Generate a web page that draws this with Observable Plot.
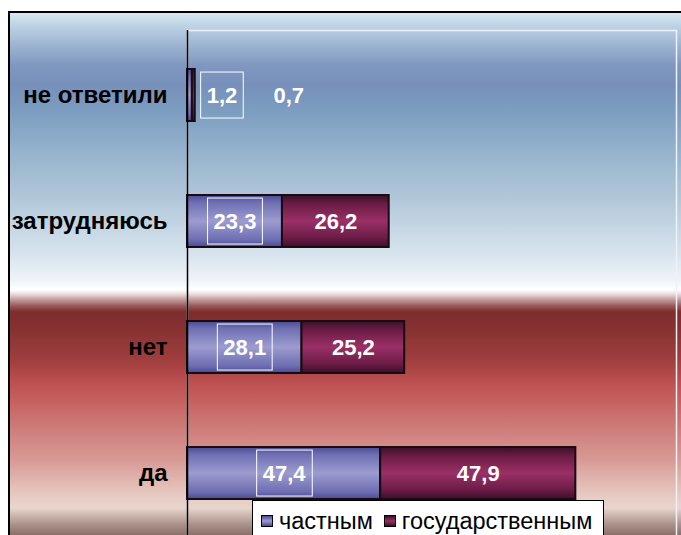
<!DOCTYPE html>
<html>
<head>
<meta charset="utf-8">
<script src="https://cdn.jsdelivr.net/npm/d3@7"></script>
<script src="https://cdn.jsdelivr.net/npm/@observablehq/plot@0.6"></script>
<style>
html, body { margin: 0; padding: 0; width: 681px; height: 535px; overflow: hidden; background: #fff; }
#wrap { position: relative; width: 681px; height: 535px; overflow: hidden; font-family: "Liberation Sans", Arial, sans-serif; }
#frame {
  position: absolute; left: 8px; top: 11px; width: 720px; height: 600px;
  border-left: 2px solid #000; border-top: 2px solid #000;
  background: linear-gradient(to bottom,
    #d8e8f2 0px, #c4d8e8 9px, #a4bcd6 27px, #8098c0 52px, #7690ba 72px, #7c9cc0 97px,
    #94b2cc 137px, #b2c8da 187px, #d4e2ec 237px, #eef3f8 267px, #ffffff 277px,
    #ecdcdc 281px, #c09898 287px, #985858 293px, #7e2c2c 299px, #873232 317px,
    #a03e3e 347px, #c05252 372px, #cb7472 407px, #d89a96 447px, #e6cac2 482px,
    #e8d6ce 495px, #cfb8b0 502px, #a89088 512px, #8a7068 522px, #8a7068 600px);
}
#chart { position: absolute; left: 0; top: 0; }
#legend {
  position: absolute; left: 252px; top: 500px; width: 352px; height: 60px;
  border: 1px solid #000; background: #fff; box-sizing: border-box;
  display: flex; align-items: flex-start; padding: 7px 0 0 8px;
  font-size: 23.5px; line-height: 26px; color: #000;
}
#legend .item { display: flex; align-items: center; margin-right: 11px; }
#legend .sw { width: 10px; height: 10px; border: 1.5px solid #000; margin-right: 6px; }
</style>
</head>
<body>
<div id="wrap">
  <div id="frame"></div>
  <div id="chart"></div>
  <div id="legend"></div>
</div>
<script>
const categories = ["не ответили", "затрудняюсь", "нет", "да"];
const series = ["частным", "государственным"];
const privateValues = [1.2, 23.3, 28.1, 47.4];
const stateValues = [0.7, 26.2, 25.2, 47.9];
const xDomain = [0, 120];

const data = categories.flatMap((c, i) => [
  {cat: c, series: series[0], value: privateValues[i]},
  {cat: c, series: series[1], value: stateValues[i]}
]);
const fmt = v => v.toFixed(1).replace(".", ",");
const smallCat = categories[0];

const gradIds = ["gPrivate", "gState"];
const gradStops = [
  [["0", "#4a4a92"], ["0.14", "#6e6eb2"], ["0.5", "#9c9cd0"], ["0.86", "#6e6eb2"], ["1", "#4a4a92"]],
  [["0", "#3a1028"], ["0.18", "#6c1c46"], ["0.5", "#9a3066"], ["0.82", "#6c1c46"], ["1", "#3a1028"]]
];

function defsMark() {
  const ns = "http://www.w3.org/2000/svg";
  const defs = document.createElementNS(ns, "defs");
  gradIds.forEach((id, k) => {
    const lg = document.createElementNS(ns, "linearGradient");
    lg.setAttribute("id", id);
    lg.setAttribute("x1", "0"); lg.setAttribute("y1", "0");
    lg.setAttribute("x2", "0"); lg.setAttribute("y2", "1");
    gradStops[k].forEach(([o, c]) => {
      const s = document.createElementNS(ns, "stop");
      s.setAttribute("offset", o); s.setAttribute("stop-color", c);
      lg.appendChild(s);
    });
    defs.appendChild(lg);
  });
  return defs;
}

const font = "Liberation Sans, Arial, sans-serif";
// label text shown only for the rows selected by `pick`; stacking still uses every row
const labelFor = pick => d => (pick(d) ? fmt(d.value) : null);

const valueText = (pick, dx) => Plot.text(data, Plot.stackX({
  x: "value", y: "cat", text: labelFor(pick), dx,
  fill: "#fff", fontSize: 22, fontWeight: "bold", fontFamily: font
}));

const chart = Plot.plot({
  width: 681,
  height: 537,
  marginLeft: 187,
  marginRight: 5,
  marginTop: 30,
  marginBottom: 0,
  style: {background: "transparent", fontFamily: font, overflow: "visible"},
  x: {domain: xDomain, axis: null},
  y: {domain: categories, axis: null, paddingInner: 0.59, paddingOuter: 0.3},
  color: {domain: series, range: gradIds.map(id => `url(#${id})`)},
  marks: [
    defsMark,
    Plot.frame({stroke: "#eef2f6", strokeWidth: 1.5}),
    Plot.barX(data, Plot.stackX({x: "value", y: "cat", fill: "series", stroke: "#1a0a12", strokeWidth: 2})),
    Plot.ruleX([0], {stroke: "#000", strokeWidth: 1.5}),
    Plot.text(categories, {y: d => d, text: d => d, frameAnchor: "left", textAnchor: "end", dx: -20,
      fontSize: 24, fontWeight: "bold", fill: "#000", fontFamily: font}),
    valueText(d => d.cat !== smallCat, 0),
    valueText(d => d.cat === smallCat && d.series === series[0], 32),
    valueText(d => d.cat === smallCat && d.series === series[1], 95)
  ]
});
document.getElementById("chart").appendChild(chart);

// white outline boxes around the private-series labels, sized from the rendered text
const ns = "http://www.w3.org/2000/svg";
const boxed = new Set(privateValues.map(fmt));
chart.querySelectorAll("text").forEach(t => {
  if (!boxed.has(t.textContent)) return;
  const b = t.getBBox();
  const r = document.createElementNS(ns, "rect");
  const cy = b.y + b.height / 2;
  r.setAttribute("x", b.x - 6);
  r.setAttribute("y", cy - 23);
  r.setAttribute("width", b.width + 12);
  r.setAttribute("height", 46);
  r.setAttribute("fill", "none");
  r.setAttribute("stroke", "#fff");
  r.setAttribute("stroke-width", 1);
  const tr = t.getAttribute("transform");
  if (tr) r.setAttribute("transform", tr);
  t.parentNode.insertBefore(r, t);
});

// legend
const swatchCss = [
  "linear-gradient(to bottom, #4a4a92, #9c9cd0 50%, #4a4a92)",
  "linear-gradient(to bottom, #3a1028, #9a3066 50%, #3a1028)"
];
const legend = document.getElementById("legend");
series.forEach((s, k) => {
  const item = document.createElement("div");
  item.className = "item";
  const sw = document.createElement("span");
  sw.className = "sw";
  sw.style.background = swatchCss[k];
  const tx = document.createElement("span");
  tx.textContent = s;
  item.appendChild(sw); item.appendChild(tx);
  legend.appendChild(item);
});
</script>
</body>
</html>
